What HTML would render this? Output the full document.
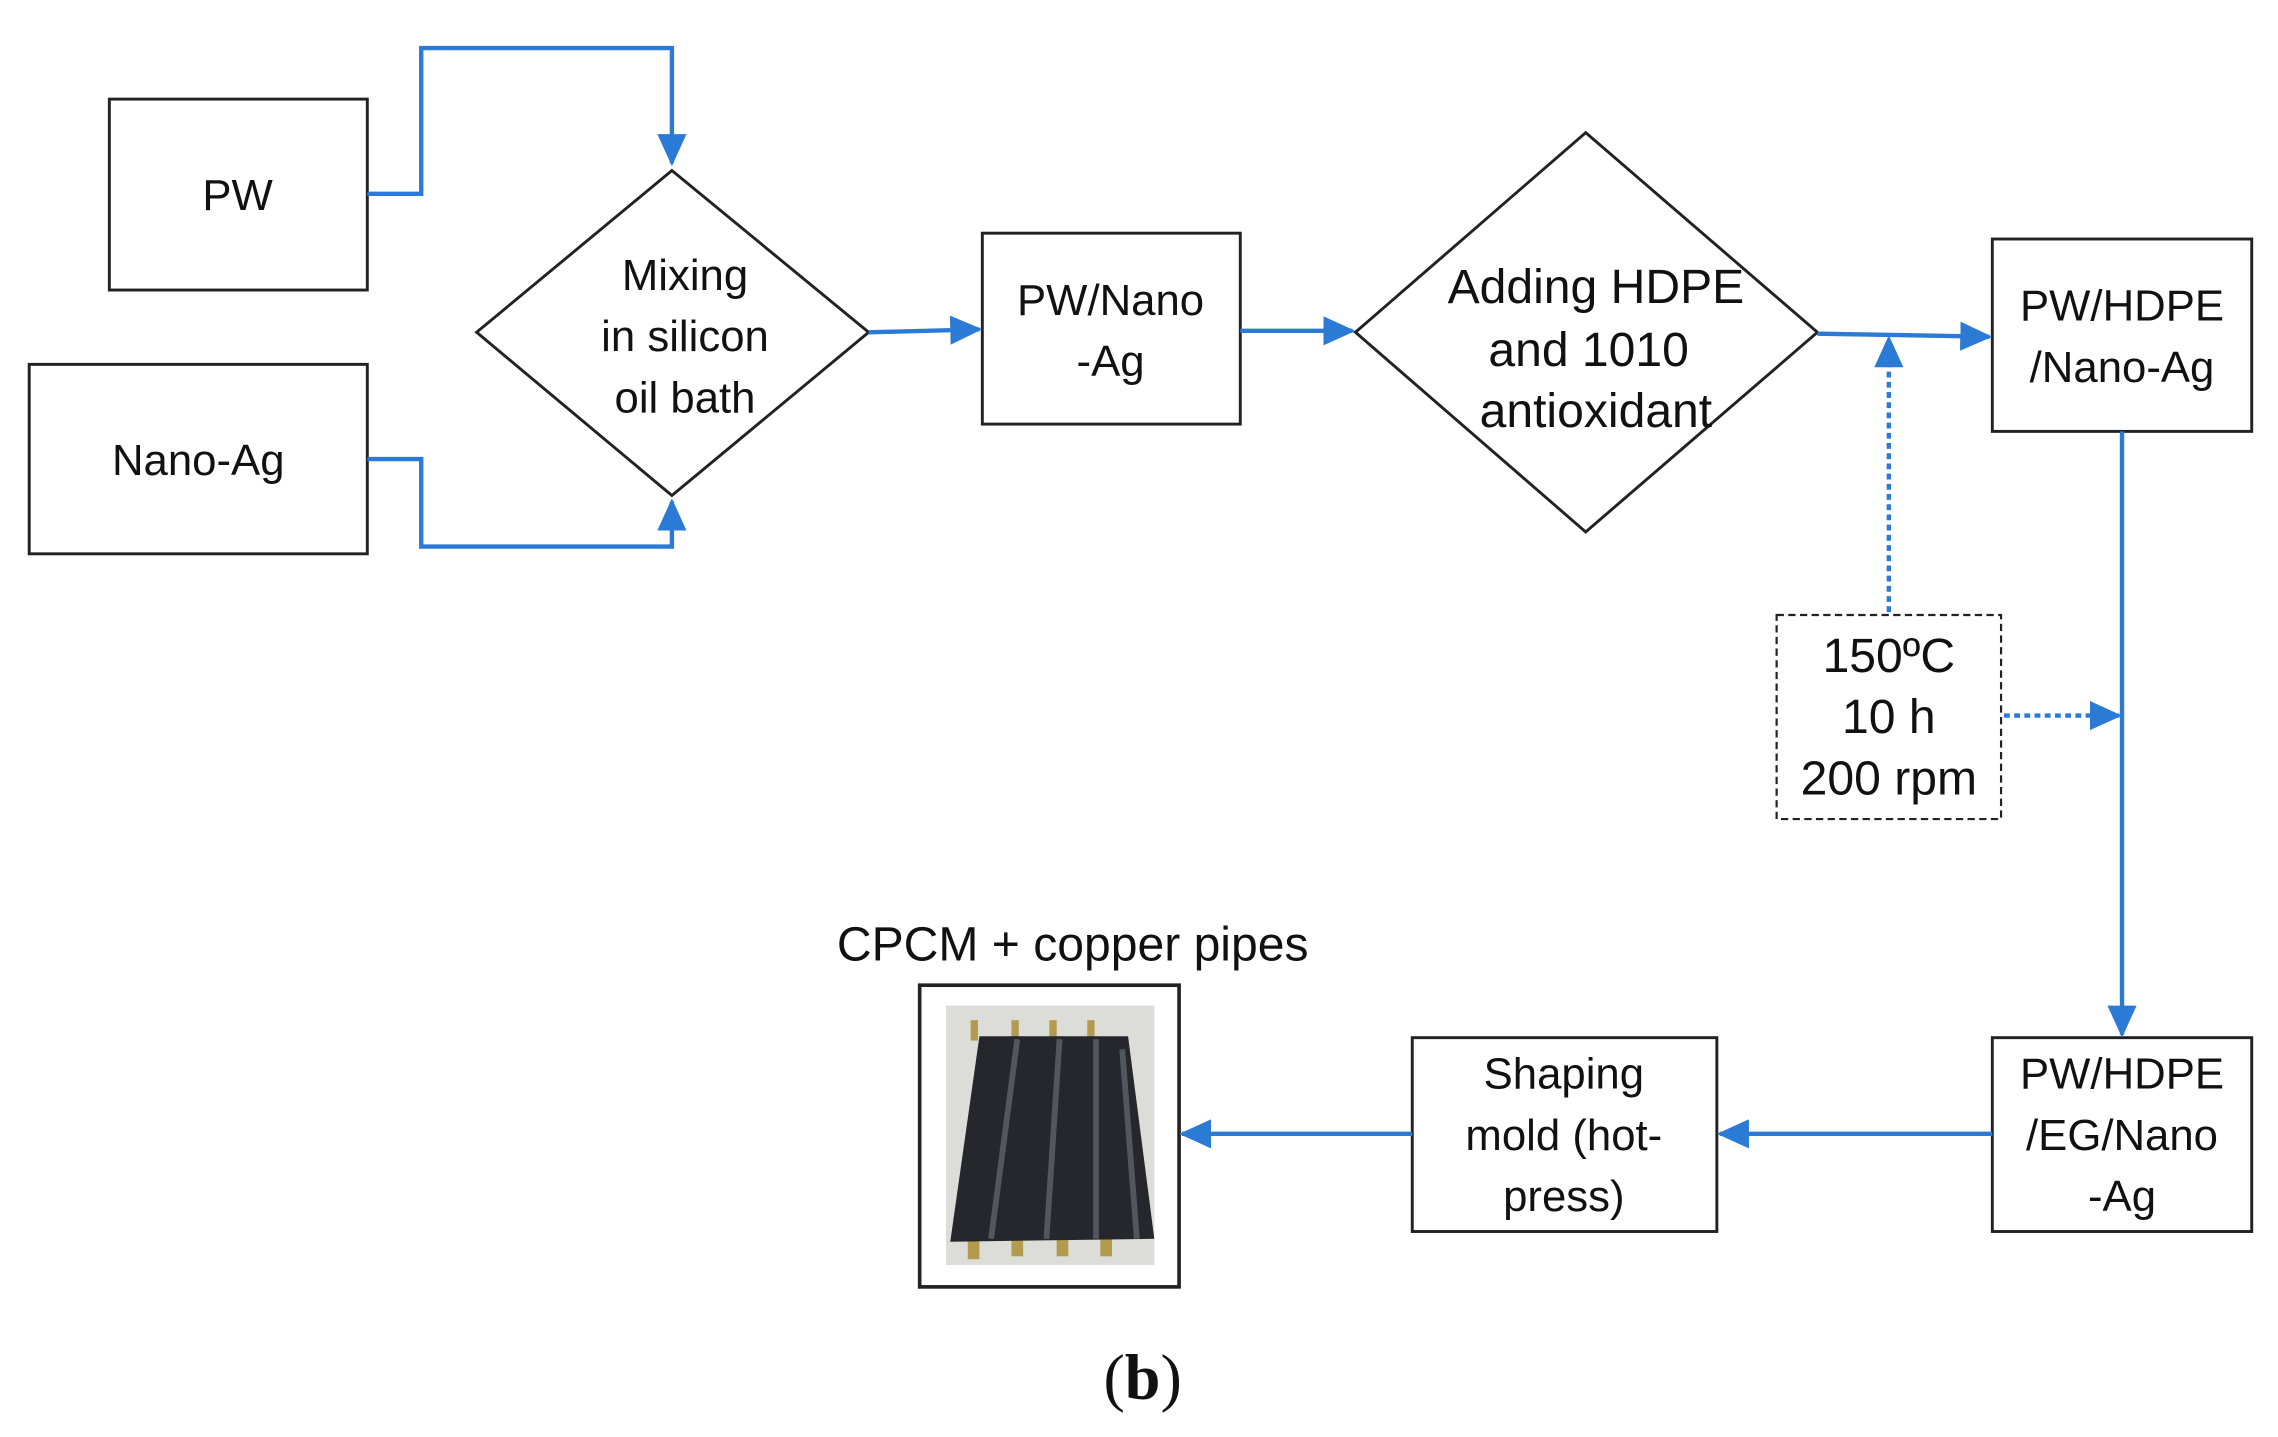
<!DOCTYPE html>
<html><head><meta charset="utf-8"><style>
html,body{margin:0;padding:0;background:#fff}
svg{display:block}
text{font-family:"Liberation Sans",sans-serif;fill:#111}
</style></head><body>
<svg width="2278" height="1437" viewBox="0 0 1563 986" xmlns="http://www.w3.org/2000/svg">
<defs>
<marker id="a" markerWidth="10" markerHeight="10" refX="9" refY="5" orient="auto" markerUnits="userSpaceOnUse" viewBox="0 0 10 10"><path d="M0,0 L10,5 L0,10 z" fill="#2a7ad6"/></marker>
<marker id="b" markerWidth="22" markerHeight="20" refX="20" refY="10" orient="auto" markerUnits="userSpaceOnUse" viewBox="0 0 22 20"><path d="M0,0 L22,10 L0,20 z" fill="#2a7ad6"/></marker>
</defs>
<g fill="none" stroke="#222" stroke-width="2">
<rect x="75" y="68" width="177" height="131"/>
<rect x="20" y="250" width="232" height="130"/>
<polygon points="461,117 596,228 461,340 327,228"/>
<rect x="674" y="160" width="177" height="131"/>
<polygon points="1088,91 1247,228 1088,365 930,228"/>
<rect x="1367" y="164" width="178" height="132"/>
<rect x="1367" y="712" width="178" height="133"/>
<rect x="969" y="712" width="209" height="133"/>
<rect x="631" y="676" width="178" height="207" stroke-width="2.5"/>
<rect x="1219" y="422" width="154" height="140" stroke-width="1.5" stroke-dasharray="5,3"/>
</g>
<g fill="none" stroke="#2a7ad6" stroke-width="3">
<polyline points="252,133 289,133 289,33 461,33 461,112" marker-end="url(#b)"/>
<polyline points="252,315 289,315 289,375 461,375 461,344" marker-end="url(#b)"/>
<line x1="596" y1="228" x2="672" y2="226" marker-end="url(#b)"/>
<line x1="851" y1="227" x2="928" y2="227" marker-end="url(#b)"/>
<line x1="1247" y1="229" x2="1365" y2="231" marker-end="url(#b)"/>
<line x1="1456" y1="296" x2="1456" y2="710" marker-end="url(#b)"/>
<line x1="1367" y1="778" x2="1180" y2="778" marker-end="url(#b)"/>
<line x1="969" y1="778" x2="811" y2="778" marker-end="url(#b)"/>
<line x1="1296" y1="420" x2="1296" y2="232" stroke-dasharray="4,3" marker-end="url(#b)"/>
<line x1="1375" y1="491" x2="1454" y2="491" stroke-dasharray="4,3" marker-end="url(#b)"/>
</g>
<g font-size="30" text-anchor="middle">
<text x="163" y="144">PW</text>
<text x="136" y="326">Nano-Ag</text>
<text x="470" y="199">Mixing</text>
<text x="470" y="241">in silicon</text>
<text x="470" y="283">oil bath</text>
<text x="762" y="216">PW/Nano</text>
<text x="762" y="258">-Ag</text>
<text x="1095" y="208" font-size="33">Adding HDPE</text>
<text x="1090" y="251" font-size="33">and 1010</text>
<text x="1095" y="293" font-size="33">antioxidant</text>
<text x="1456" y="220">PW/HDPE</text>
<text x="1456" y="262">/Nano-Ag</text>
<text x="1456" y="747">PW/HDPE</text>
<text x="1456" y="789">/EG/Nano</text>
<text x="1456" y="831">-Ag</text>
<text x="1073" y="747">Shaping</text>
<text x="1073" y="789">mold (hot-</text>
<text x="1073" y="831">press)</text>
<text x="1296" y="461" font-size="33">150ºC</text>
<text x="1296" y="503" font-size="33">10 h</text>
<text x="1296" y="545" font-size="33">200 rpm</text>
<text x="736" y="659" font-size="33">CPCM + copper pipes</text>
<text x="784" y="960" font-size="44" font-family="Liberation Serif" style="font-family:'Liberation Serif',serif">(<tspan font-weight="bold">b</tspan>)</text>
</g>
<rect x="649" y="690" width="143" height="178" fill="#dcdcd8"/>
<g fill="#b49a4c">
<rect x="666" y="700" width="5" height="14"/><rect x="694" y="700" width="5" height="14"/><rect x="720" y="700" width="5" height="14"/><rect x="746" y="700" width="5" height="14"/>
<rect x="664" y="828" width="8" height="36"/><rect x="694" y="828" width="8" height="34"/><rect x="725" y="828" width="8" height="34"/><rect x="755" y="828" width="8" height="34"/>
</g>
<polygon points="672,711 774,711 792,850 652,852" fill="#25272d"/>
<g stroke="#707680" stroke-width="4" opacity="0.6">
<line x1="698" y1="713" x2="680" y2="850"/><line x1="727" y1="713" x2="718" y2="850"/><line x1="752" y1="713" x2="752" y2="850"/><line x1="770" y1="720" x2="780" y2="850"/>
</g>
</svg>
</body></html>
